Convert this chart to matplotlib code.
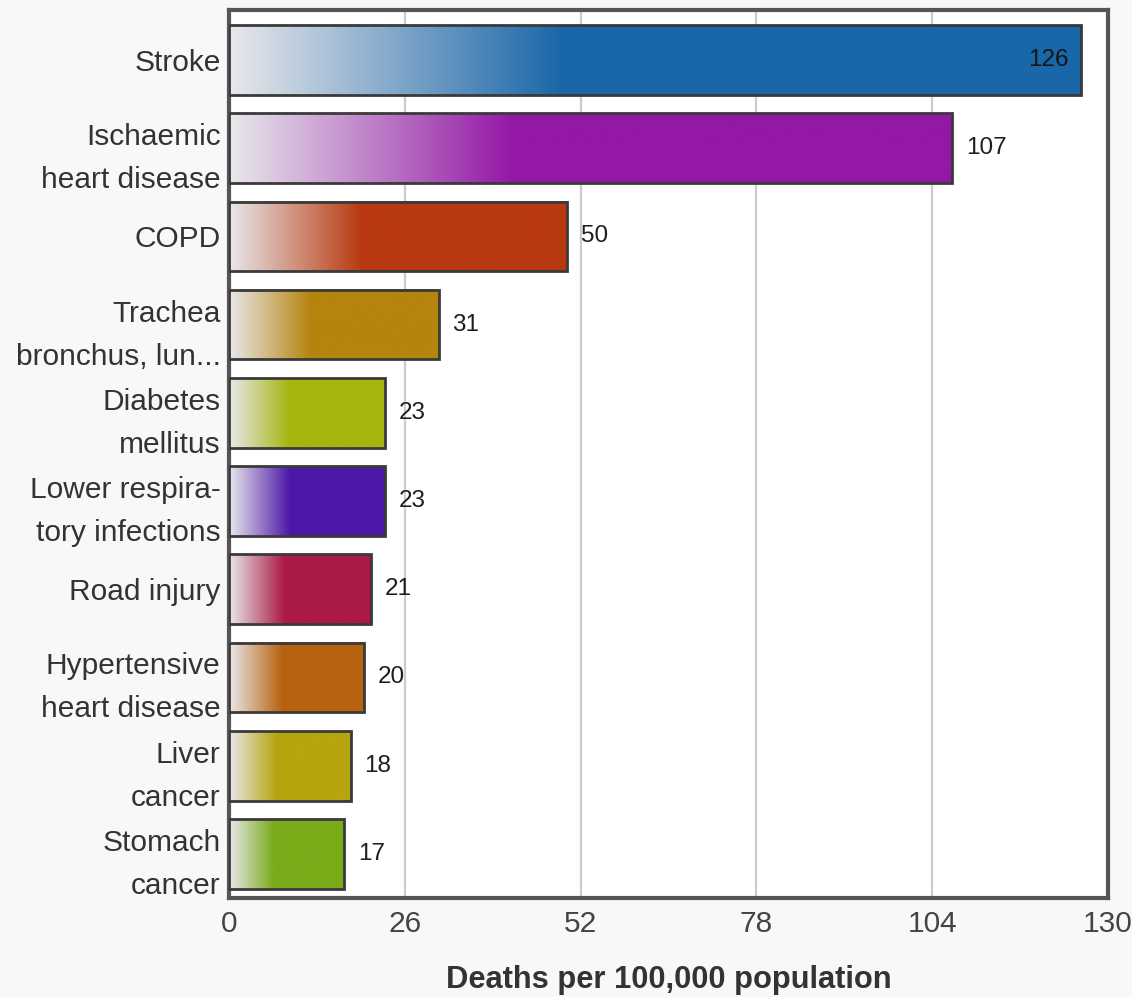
import numpy as np
import matplotlib.pyplot as plt
from matplotlib.colors import to_rgb

plt.rcParams['font.family'] = ['Liberation Sans', 'DejaVu Sans']

# ---- data ----
causes = ['Stroke', 'Ischaemic\nheart disease', 'COPD', 'Trachea\nbronchus, lun...',
          'Diabetes\nmellitus', 'Lower respira-\ntory infections', 'Road injury',
          'Hypertensive\nheart disease', 'Liver\ncancer', 'Stomach\ncancer']
deaths = [126, 107, 50, 31, 23, 23, 21, 20, 18, 17]
colors = ['#1a67a8', '#9419a6', '#b83a10', '#b5840f', '#a6b50f',
          '#4d18a8', '#ab1a45', '#b8620f', '#b6a50f', '#7aab1a']
xticks = [0, 26, 52, 78, 104, 130]

fig = plt.figure(figsize=(11.32, 9.97), dpi=100, facecolor='#f8f8f8')
ax = fig.add_axes([0.2023, 0.0993, 0.7765, 0.8907])
ax.set_facecolor('white')

ypos = np.arange(len(causes))
bars = ax.barh(ypos, deaths, height=0.79, facecolor='none',
               edgecolor='#3a3a3a', linewidth=2, zorder=4)

# gradient fill: pale grey at the base, full colour from ~39% of the bar on
start = np.array([0.91, 0.91, 0.92])
n = 256
t = np.linspace(0, 1, n)
ramp = np.clip(t / 0.39, 0, 1)[:, None]
for bar, col in zip(bars, colors):
    c = np.array(to_rgb(col))
    img = (start + (c - start) * ramp)[None, :, :]
    x0, y0 = bar.get_x(), bar.get_y()
    w, h = bar.get_width(), bar.get_height()
    ax.imshow(img, extent=(x0, x0 + w, y0 + h, y0), aspect='auto',
              interpolation='bilinear', zorder=3)

# value labels
for bar, v in zip(bars, deaths):
    yc = bar.get_y() + bar.get_height() / 2
    if v > 120:
        ax.annotate(str(v), (v, yc), xytext=(-9, 0), textcoords='offset points',
                    ha='right', va='center', fontsize=17.5, color='#151515', zorder=5)
    else:
        ax.annotate(str(v), (v, yc), xytext=(10, 0), textcoords='offset points',
                    ha='left', va='center', fontsize=17.5, color='#1e1e1e', zorder=5)

ax.set_xlim(0, 130)
ax.set_ylim(len(causes) - 0.5, -0.567)
ax.set_xticks(xticks)
ax.set_yticks(ypos)
ax.set_yticklabels(causes, fontsize=21.5, color='#333333', linespacing=1.68)
ax.tick_params(axis='x', labelsize=21.5, labelcolor='#444444', length=0, pad=9)
ax.tick_params(axis='y', length=0, pad=6)
ax.grid(axis='x', color='#cccccc', linewidth=1.6, zorder=0)
ax.set_axisbelow(True)
for s in ax.spines.values():
    s.set_color('#555555')
    s.set_linewidth(3)

ax.set_xlabel('Deaths per 100,000 population', fontsize=22.2, fontweight='bold',
              color='#333333', labelpad=19)

fig.savefig('out.png', dpi=100, facecolor=fig.get_facecolor())
